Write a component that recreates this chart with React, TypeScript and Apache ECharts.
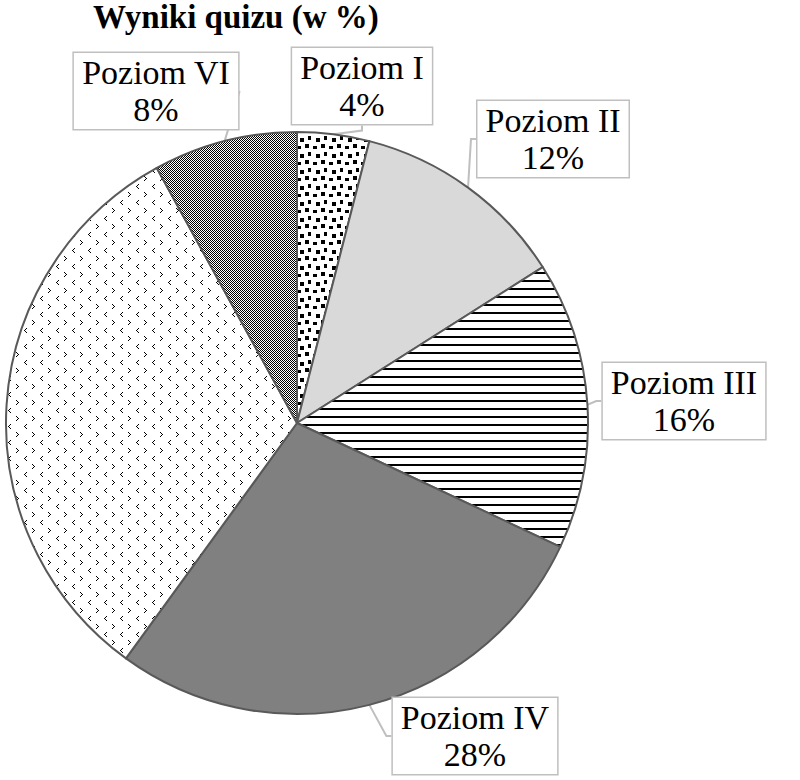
import * as echarts from 'echarts';
import { useEffect, useRef } from 'react';

const levels = ['Poziom I', 'Poziom II', 'Poziom III', 'Poziom IV', 'Poziom V', 'Poziom VI'];
const shares = [4, 12, 16, 28, 32, 8];
// the source picture crops the Poziom V callout away at its left edge
const calloutVisible = [true, true, true, true, false, true];

const serif = 'Liberation Serif';

// centres of the callout boxes (px)
const calloutPos: [number, number][] = [
  [362, 86],
  [553, 139],
  [684, 401],
  [475, 736],
  [-125, 405],
  [156, 91],
];

const makeTile = (w: number, h: number, draw: (ctx: CanvasRenderingContext2D) => void) => {
  const c = document.createElement('canvas');
  c.width = w;
  c.height = h;
  const ctx = c.getContext('2d')!;
  ctx.fillStyle = '#ffffff';
  ctx.fillRect(0, 0, w, h);
  ctx.fillStyle = '#000000';
  draw(ctx);
  return { image: c, repeat: 'repeat' };
};

const makeFills = () => {
  // large confetti
  const confetti = makeTile(16, 16, (ctx) => {
    ctx.fillRect(1, 0, 4, 4);
    ctx.fillRect(9, 2, 4, 3);
    ctx.fillRect(4, 8, 3, 4);
    ctx.fillRect(12, 10, 4, 4);
  });
  // narrow horizontal lines
  const hLines = makeTile(8, 8, (ctx) => {
    ctx.fillRect(0, 0, 8, 2);
  });
  // small chevrons
  const chevrons = makeTile(16, 16, (ctx) => {
    [[0, 0], [1, 1], [2, 2], [1, 3], [0, 4]].forEach(([x, y]) => ctx.fillRect(x, y, 1, 1));
    [[10, 8], [9, 9], [8, 10], [9, 11], [10, 12]].forEach(([x, y]) => ctx.fillRect(x, y, 1, 1));
  });
  // 50% checker
  const checker = makeTile(8, 8, (ctx) => {
    for (let y = 0; y < 8; y++) {
      for (let x = 0; x < 8; x++) {
        if ((x + y) % 2 === 0) ctx.fillRect(x, y, 1, 1);
      }
    }
  });
  return [confetti, '#d9d9d9', hLines, '#808080', chevrons, checker];
};

function App() {
  const chartRef = useRef<HTMLDivElement>(null);

  useEffect(() => {
    const myChart = echarts.init(chartRef.current, null, { renderer: 'svg' });
    const fills = makeFills();

    const option = {
      animation: false,
      title: {
        text: 'Wyniki quizu (w %)',
        left: 93,
        top: 0,
        padding: 0,
        textStyle: {
          fontFamily: serif,
          fontSize: 33,
          fontWeight: 'bold',
          color: '#000',
        },
      },
      series: [
        {
          type: 'pie',
          center: [297, 423],
          radius: 291,
          startAngle: 90,
          clockwise: true,
          avoidLabelOverlap: false,
          itemStyle: {
            borderColor: '#595959',
            borderWidth: 2,
          },
          label: {
            show: true,
            position: 'outside',
            formatter: '{b}\n{c}%',
            fontFamily: serif,
            fontSize: 34,
            lineHeight: 37,
            color: '#000',
            align: 'center',
            backgroundColor: '#fff',
            borderColor: '#bfbfbf',
            borderWidth: 1.5,
            padding: [1, 8],
          },
          labelLine: {
            show: true,
            length: 5,
            length2: 5,
            lineStyle: { color: '#bfbfbf', width: 2 },
          },
          labelLayout: (params: any) => ({
            x: calloutPos[params.dataIndex][0],
            y: calloutPos[params.dataIndex][1],
            align: 'center',
            verticalAlign: 'middle',
          }),
          emphasis: { disabled: true },
          data: levels.map((name, i) => ({
            name,
            value: shares[i],
            itemStyle: { color: fills[i] },
            label: { show: calloutVisible[i] },
            labelLine: { show: calloutVisible[i] },
          })),
        },
      ],
    };

    myChart.setOption(option as any);

    return () => {
      myChart.dispose();
    };
  }, []);

  return (
    <div
      ref={chartRef}
      style={{ position: 'absolute', left: 0, top: 0, width: '800px', height: '780px' }}
    ></div>
  );
}

export default App;
